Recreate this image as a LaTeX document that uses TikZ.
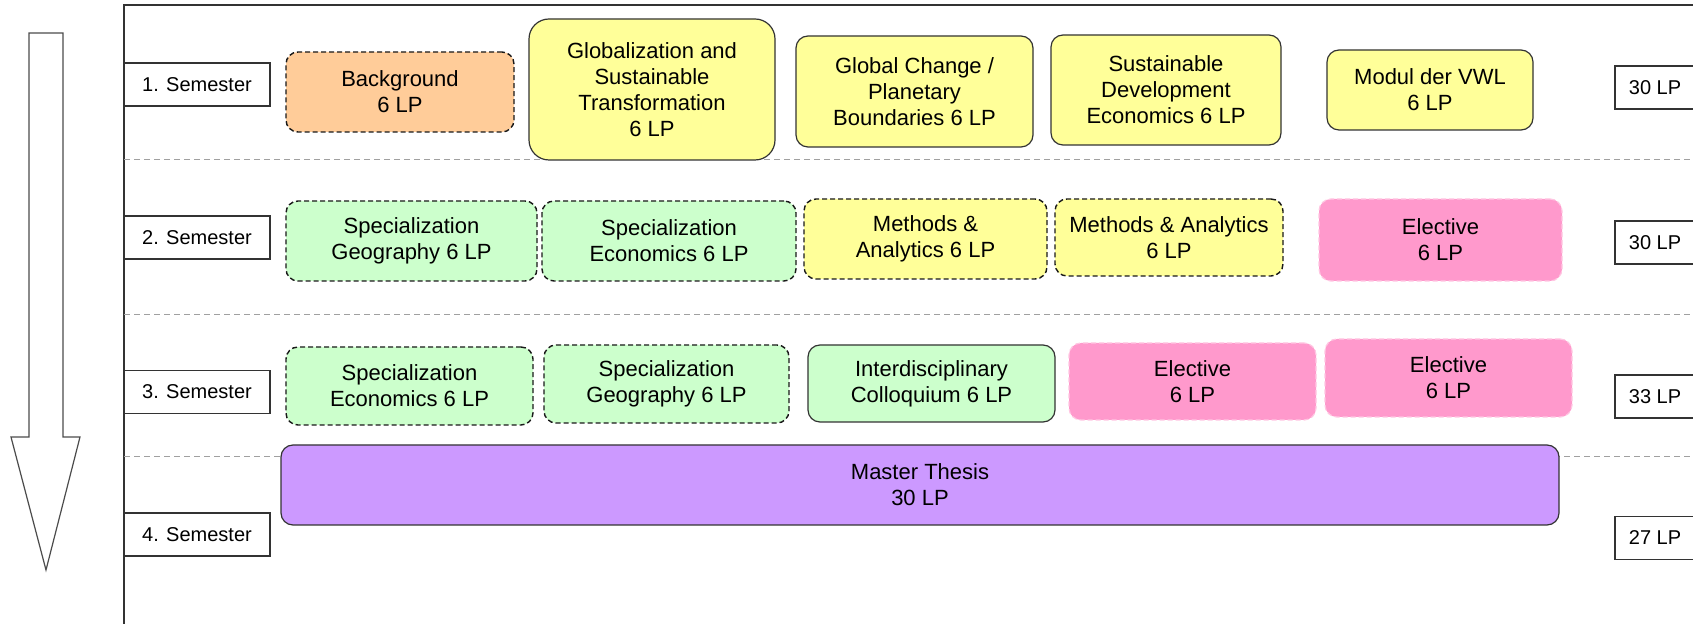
\documentclass[tikz,border=0pt]{standalone}
\usepackage{fontspec}
\setmainfont{Liberation Sans}
\usepackage{tikz}

\definecolor{orangefill}{HTML}{FFCC99}
\definecolor{yellowfill}{HTML}{FFFF99}
\definecolor{greenfill}{HTML}{CCFFCC}
\definecolor{pinkfill}{HTML}{FF99CC}
\definecolor{pinkline}{HTML}{FFC6E2}
\definecolor{purplefill}{HTML}{CC99FF}
\definecolor{boxline}{HTML}{333333}
\definecolor{sepline}{HTML}{A0A0A0}

\tikzset{
  module/.style={draw=boxline, line width=0.6pt, rounded corners=6pt, inner sep=0pt,
    align=center, font=\fontsize{11}{13}\selectfont},
  optional/.style={module, draw=black!90, line width=0.7pt, dash pattern=on 2.5pt off 1.5pt},
  elective/.style={module, fill=pinkfill, draw=pinkline, dash pattern=on 2.5pt off 1.5pt},
  labelbox/.style={draw=boxline, line width=0.6pt, inner sep=0pt, minimum height=21.5pt,
    font=\fontsize{10}{12}\selectfont},
  separator/.style={draw=sepline, line width=0.5pt, dash pattern=on 3pt off 2pt}
}

\begin{document}
\begin{tikzpicture}[x=0.5pt,y=0.5pt,yscale=-1,xscale=1]
\clip (0,0) rectangle (1693,624);
\fill[white] (0,0) rectangle (1693,624);

%Shape: Down Arrow
\draw[color=black!70, line width=0.6pt] (29,33) -- (63,33) -- (63,437) -- (80,437) -- (46,570) -- (11,437) -- (29,437) -- cycle;

%Frame
\draw[color=boxline, line width=0.8pt] (1700,5) -- (124,5) -- (124,630);

%Separators
\draw[separator] (124,160) -- (1693,160);
\draw[separator] (124,315) -- (1693,315);
\draw[separator] (124,457) -- (1693,457);

%Semester labels
\node[labelbox, fill=white, minimum width=73pt] (sem1) at (197,84.5) {1. Semester};
\node[labelbox, fill=white, minimum width=73pt] (sem2) at (197,237.5) {2. Semester};
\node[labelbox, fill=white, minimum width=73pt] (sem3) at (197,392) {3. Semester};
\node[labelbox, fill=white, minimum width=73pt] (sem4) at (197,534.5) {4. Semester};

%Credit labels
\node[labelbox, fill=white, minimum width=40pt] (lp1) at (1655,87.5) {30 LP};
\node[labelbox, fill=white, minimum width=40pt] (lp2) at (1655,242.5) {30 LP};
\node[labelbox, fill=white, minimum width=40pt] (lp3) at (1655,396.5) {33 LP};
\node[labelbox, fill=white, minimum width=40pt] (lp4) at (1655,538) {27 LP};

% Semester 1
\node[optional, fill=orangefill, minimum width=114pt, minimum height=40pt] (background) at (400,92) {Background\\6 LP};
\node[module, fill=yellowfill, rounded corners=10pt, minimum width=123pt, minimum height=70.5pt] (globalization) at (652,89.5) {Globalization and\\Sustainable\\Transformation\\6 LP};
\node[module, fill=yellowfill, minimum width=118.5pt, minimum height=55.5pt] (globalchange) at (914.5,91.5) {Global Change /\\Planetary\\Boundaries 6 LP};
\node[module, fill=yellowfill, minimum width=115pt, minimum height=55pt] (sustdev) at (1166,90) {Sustainable\\Development\\Economics 6 LP};
\node[module, fill=yellowfill, minimum width=103pt, minimum height=40pt] (vwl) at (1430,90) {Modul der VWL\\6 LP};

% Semester 2
\node[optional, fill=greenfill, minimum width=125.5pt, minimum height=40pt] (specgeoA) at (411.5,241) {Specialization\\Geography 6 LP};
\node[optional, fill=greenfill, minimum width=127pt, minimum height=40pt] (spececoA) at (669,241) {Specialization\\Economics 6 LP};
\node[optional, fill=yellowfill, minimum width=121.5pt, minimum height=40pt] (methodsA) at (925.5,239) {Methods \&\\Analytics 6 LP};
\node[optional, fill=yellowfill, minimum width=114pt, minimum height=38.5pt] (methodsB) at (1169,237.5) {Methods \& Analytics\\6 LP};
\node[elective, minimum width=121.5pt, minimum height=41pt] (electiveA) at (1440.5,240) {Elective\\6 LP};

% Semester 3
\node[optional, fill=greenfill, minimum width=123.5pt, minimum height=39pt] (spececoB) at (409.5,386) {Specialization\\Economics 6 LP};
\node[optional, fill=greenfill, minimum width=122.5pt, minimum height=39pt] (specgeoB) at (666.5,384) {Specialization\\Geography 6 LP};
\node[module, fill=greenfill, minimum width=123.5pt, minimum height=38.5pt] (colloquium) at (931.5,383.5) {Interdisciplinary\\Colloquium 6 LP};
\node[elective, minimum width=123.5pt, minimum height=38.5pt] (electiveB) at (1192.5,381.5) {Elective\\6 LP};
\node[elective, minimum width=123.5pt, minimum height=39pt] (electiveC) at (1448.5,378) {Elective\\6 LP};

% Semester 4
\node[module, fill=purplefill, minimum width=639pt, minimum height=40pt] (thesis) at (920,485) {Master Thesis\\30 LP};

\end{tikzpicture}
\end{document}
